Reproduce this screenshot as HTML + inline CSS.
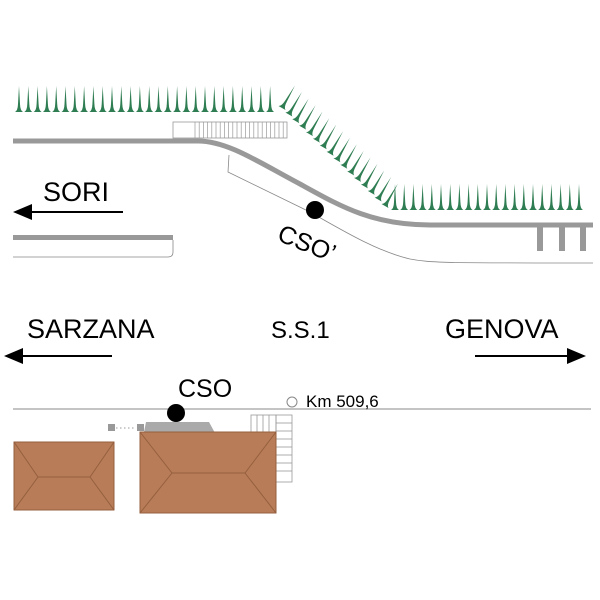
<!DOCTYPE html>
<html><head><style>body{margin:0;background:#fff}svg{display:block}</style></head>
<body>
<svg id="s" width="600" height="600" viewBox="0 0 600 600" font-family="Liberation Sans, sans-serif">
<g id="trees" fill="#2f7d52"></g>
<rect x="173" y="122" width="114" height="16" fill="none" stroke="#999" stroke-width="0.8"/>
<g id="hatch" stroke="#999" stroke-width="0.7"></g>
<path d="M13,141 L198,141 C228,141 260,163 300,184 C340,206 372,225 430,225 L593,225" fill="none" stroke="#999" stroke-width="5"/>
<rect x="537" y="225" width="6" height="26" fill="#999"/>
<rect x="559" y="225" width="6" height="26" fill="#999"/>
<rect x="580" y="225" width="6" height="26" fill="#999"/>
<path d="M229,155 L228,172 L310,212 C350,235 380,252 410,259 C430,263 450,263 593,263" fill="none" stroke="#888" stroke-width="0.8"/>
<rect x="13" y="235" width="160" height="5" fill="#999"/>
<path d="M13,257 L168,257 Q173,257 173,252 L173,240" fill="none" stroke="#888" stroke-width="0.8"/>
<circle cx="315" cy="210" r="9"/>
<text x="0" y="0" font-size="25" transform="translate(276,240) rotate(22)">CSO’</text>
<text x="43" y="201" font-size="27">SORI</text>
<line x1="25" y1="212" x2="123" y2="212" stroke="#000" stroke-width="2"/>
<path d="M13,212 L32,204 L32,220 Z"/>
<text x="27" y="338" font-size="27">SARZANA</text>
<text x="271" y="338" font-size="24">S.S.1</text>
<text x="445" y="338" font-size="27">GENOVA</text>
<line x1="15" y1="356" x2="112" y2="356" stroke="#000" stroke-width="2"/>
<path d="M4,356 L23,348 L23,364 Z"/>
<line x1="475" y1="356" x2="575" y2="356" stroke="#000" stroke-width="2"/>
<path d="M586,356 L567,348 L567,364 Z"/>
<line x1="13" y1="409" x2="591" y2="409" stroke="#888" stroke-width="1"/>
<text x="178" y="397" font-size="25">CSO</text>
<circle cx="292" cy="402" r="5" fill="none" stroke="#888"/>
<text x="306" y="407" font-size="17">Km 509,6</text>
<g stroke="#999" stroke-width="0.8" fill="none">
<rect x="251" y="415" width="25" height="20"/>
<line x1="257" y1="415" x2="257" y2="432"/><line x1="263" y1="415" x2="263" y2="432"/><line x1="269" y1="415" x2="269" y2="432"/>
<rect x="276" y="415" width="16" height="67"/>
<line x1="276" y1="423" x2="292" y2="423"/><line x1="276" y1="431" x2="292" y2="431"/><line x1="276" y1="439" x2="292" y2="439"/><line x1="276" y1="447" x2="292" y2="447"/><line x1="276" y1="455" x2="292" y2="455"/><line x1="276" y1="463" x2="292" y2="463"/><line x1="276" y1="471" x2="292" y2="471"/>
</g>
<rect x="108" y="424" width="7" height="7" fill="#999"/>
<line x1="116" y1="428" x2="136" y2="428" stroke="#999" stroke-dasharray="1.5,2.5"/>
<rect x="137" y="424" width="7" height="7" fill="#999"/>
<path d="M144,432 L146,422 L209,422 L215,433 Z" fill="#aaa"/>
<circle cx="176" cy="413" r="9"/>
<g fill="#b87d58" stroke="#955f3e" stroke-width="1">
<rect x="14" y="442" width="100" height="68"/>
<path d="M14,442 L38,477 L90,477 L114,442 M14,510 L38,477 M90,477 L114,510" fill="none"/>
<rect x="140" y="432" width="136" height="81"/>
<path d="M140,432 L172,473 L245,473 L276,432 M140,513 L172,473 M245,473 L276,513" fill="none"/>
</g>
</svg>
<script>
var ns="http://www.w3.org/2000/svg";
var h=document.getElementById('hatch');
for(var x=195;x<287;x+=4.2){var l=document.createElementNS(ns,'line');l.setAttribute('x1',x);l.setAttribute('x2',x);l.setAttribute('y1',122);l.setAttribute('y2',138);h.appendChild(l);}
var g=document.getElementById('trees');
function tree(x,y,a){var p=document.createElementNS(ns,'path');
p.setAttribute('d','M-4,0 Q-1.2,-1.5 -1,-8 L0,-26 L1,-8 Q1.2,-1.5 4,0 Z');
p.setAttribute('transform','translate('+x+','+y+') rotate('+a+')');g.appendChild(p);}
for(var x=19;x<=272;x+=9.3)tree(x,112,0);
var x0=282,y0=108,x1=385,y1=206,n=16;
for(var i=0;i<n;i++){var t=i/(n-1);tree(x0+(x1-x0)*t,y0+(y1-y0)*t,30);}
for(var x=395;x<=582;x+=9.2)tree(x,210,0);
</script>
</body></html>
